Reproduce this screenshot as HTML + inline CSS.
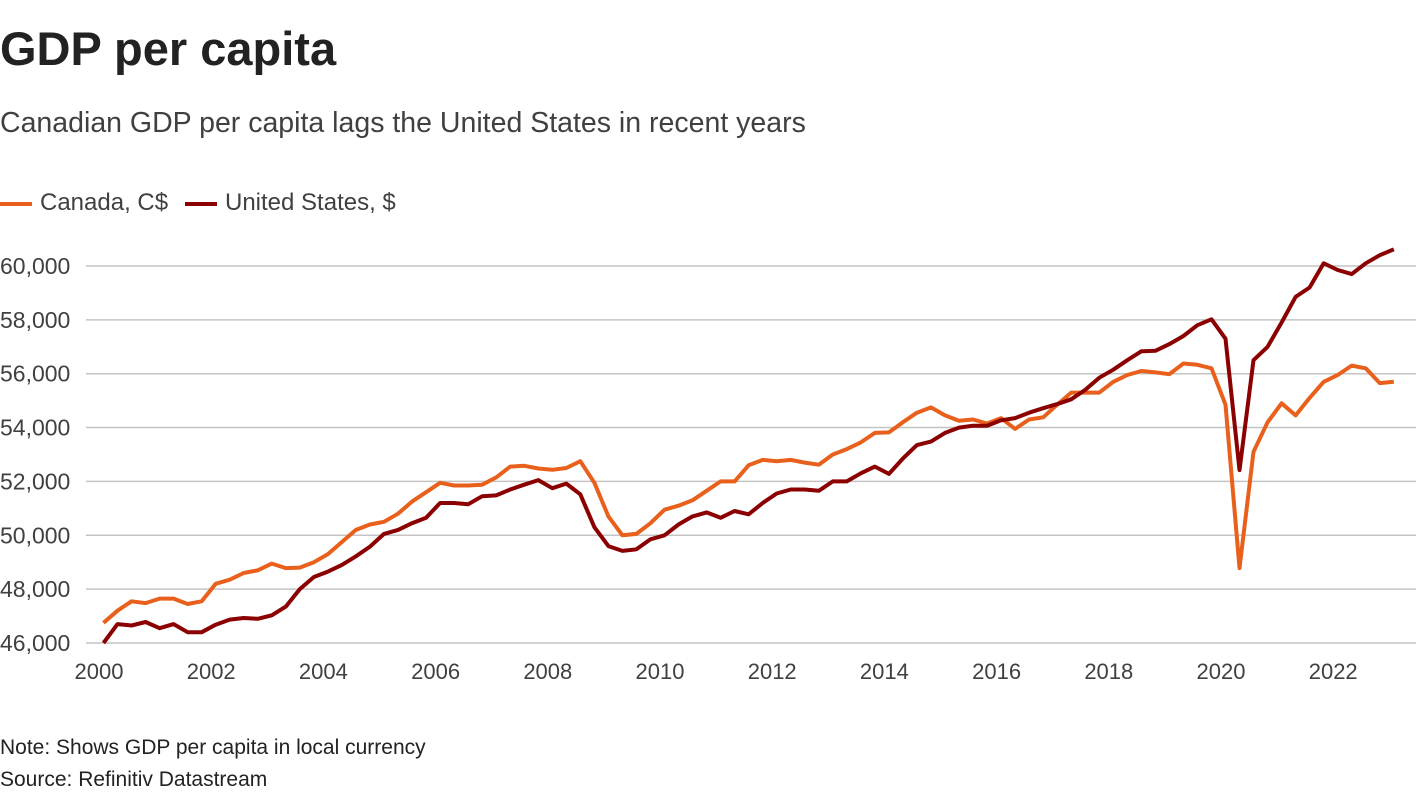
<!DOCTYPE html>
<html><head><meta charset="utf-8"><style>
body{margin:0;background:#fff;font-family:"Liberation Sans",sans-serif;width:1420px;height:800px;overflow:hidden;position:relative}
.t{position:absolute;white-space:nowrap}
</style></head><body>
<div class="t" style="left:0;top:21px;font-size:47px;font-weight:bold;color:#222">GDP per capita</div>
<div class="t" style="left:0;top:107px;font-size:28.5px;color:#404040">Canadian GDP per capita lags the United States in recent years</div>
<div class="t" style="left:0;top:189px;font-size:24px;color:#404040"><span style="display:inline-block;width:32px;height:4px;background:#e8601c;vertical-align:middle;margin-right:8px"></span>Canada, C$</div>
<div class="t" style="left:185px;top:189px;font-size:24px;color:#404040"><span style="display:inline-block;width:32px;height:4px;background:#8b0000;vertical-align:middle;margin-right:8px"></span>United States, $</div>
<svg id="chart" width="1420" height="800" style="position:absolute;left:0;top:0"></svg>
<div class="t" style="left:0;top:736px;font-size:21px;color:#222">Note: Shows GDP per capita in local currency</div>
<div class="t" style="left:0;top:768px;font-size:21px;color:#222">Source: Refinitiv Datastream</div>
<script>
const startYear = 2000;
const canada = [46750,47200,47550,47480, 47650,47650,47450,47550, 48200,48350,48600,48700, 48950,48780,48800,49000, 49300,49750,50200,50400, 50500,50800,51250,51600, 51950,51850,51850,51880, 52150,52550,52580,52480, 52430,52500,52750,51950, 50700,50000,50050,50450, 50950,51100,51300,51650, 52000,52000,52600,52800, 52750,52800,52700,52620, 53000,53200,53450,53800, 53820,54200,54550,54750, 54450,54250,54300,54150, 54350,53950,54300,54380, 54850,55300,55300,55300, 55700,55950,56100,56050, 55980,56380,56330,56200, 54850,48780,53100,54200, 54900,54450,55100,55700, 55950,56300,56200,55650, 55700];
const us = [46000,46700,46650,46780, 46550,46700,46400,46400, 46680,46870,46930,46900, 47030,47350,48000,48450, 48650,48900,49220,49580, 50050,50200,50450,50650, 51200,51200,51150,51450, 51480,51700,51880,52050, 51750,51920,51520,50300, 49600,49420,49480,49850, 50000,50400,50700,50850, 50650,50900,50780,51200, 51550,51700,51700,51650, 52000,52000,52300,52550, 52280,52850,53350,53480, 53800,54000,54070,54070, 54270,54350,54550,54720, 54870,55050,55400,55850, 56150,56500,56830,56850, 57100,57400,57800,58020, 57300,52420,56500,57000, 57900,58850,59200,60100, 59850,59700,60100,60400, 60620];
const yTicks = [46000,48000,50000,52000,54000,56000,58000,60000];
const xTicks = [2000,2002,2004,2006,2008,2010,2012,2014,2016,2018,2020,2022];
const NS="http://www.w3.org/2000/svg";
const svg=document.getElementById('chart');
function xs(t){return 99+(t-2000)*56.1;}
function ys(v){return 643-(v-46000)/2000*53.86;}
function qt(i){return startYear+i*0.25+0.08;}
yTicks.forEach(v=>{
  const l=document.createElementNS(NS,'line');
  
  
  l.setAttribute('x1',86);l.setAttribute('x2',1416);l.setAttribute('y1',ys(v));l.setAttribute('y2',ys(v));
  l.setAttribute('stroke','#c4c4c4');l.setAttribute('stroke-width','1.5');svg.appendChild(l);
  const t=document.createElementNS(NS,'text');
  
  
  t.setAttribute('x',0);t.setAttribute('y',ys(v)+8);t.setAttribute('font-size','23');t.setAttribute('fill','#404040');
  t.setAttribute('font-family','Liberation Sans, sans-serif');
  t.textContent=v.toLocaleString('en-US');svg.appendChild(t);
});
xTicks.forEach(y=>{
  const t=document.createElementNS(NS,'text');
  
  
  t.setAttribute('x',xs(y));t.setAttribute('y',679);t.setAttribute('font-size','22');t.setAttribute('fill','#404040');
  t.setAttribute('text-anchor','middle');t.setAttribute('font-family','Liberation Sans, sans-serif');
  t.textContent=y;svg.appendChild(t);
});
function line(data,color,name){
  const p=document.createElementNS(NS,'polyline');
  
  
  p.setAttribute('points',data.map((v,i)=>xs(qt(i)).toFixed(1)+','+ys(v).toFixed(1)).join(' '));
  p.setAttribute('fill','none');p.setAttribute('stroke',color);p.setAttribute('stroke-width','4');
  p.setAttribute('stroke-linejoin','round');svg.appendChild(p);
}
line(canada,'#e8601c','canada-line');
line(us,'#8b0000','us-line');
</script>
</body></html>
